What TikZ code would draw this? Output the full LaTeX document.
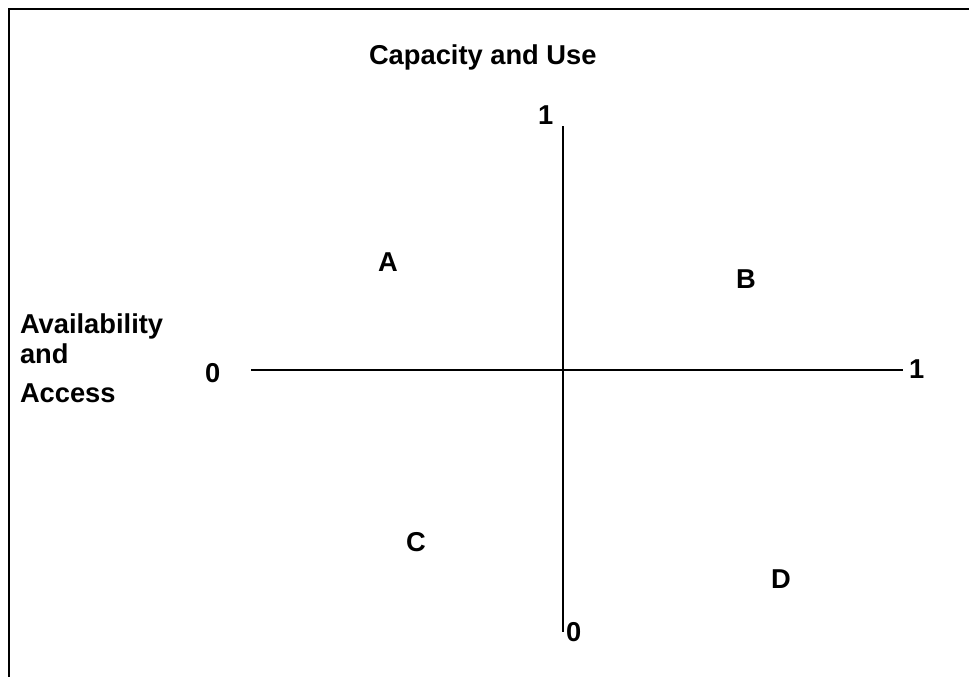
\documentclass[tikz,border=0pt]{standalone}
\usepackage{fontspec}
\setmainfont{Liberation Sans}
\begin{document}
\begin{tikzpicture}[x=1pt,y=-1pt,
  lbl/.style={anchor=base west,inner sep=0pt,outer sep=0pt,font=\bfseries\fontsize{27.3}{32}\selectfont},
  axis/.style={draw=black,line width=1.2pt},
  frame/.style={draw=black,line width=2pt}]
\useasboundingbox[fill=white] (0,0) rectangle (969,677);
% frame (open at right and bottom)
\coordinate (fb) at (9,677);
\coordinate (fc) at (9,9);
\coordinate (fr) at (969,9);
\draw[frame] (fb) -- (fc) -- (fr);
% axes
\coordinate (vt) at (563,126);
\coordinate (vb) at (563,632);
\coordinate (hl) at (251,370);
\coordinate (hr) at (903,370);
\draw[axis] (vt) -- (vb);
\draw[axis] (hl) -- (hr);
% labels
\node[lbl] (title) at (369,64) {Capacity and Use};
\node[lbl] (ytop) at (538,124) {1};
\node[lbl] (ybot) at (566,641) {0};
\node[lbl] (xl) at (205,382) {0};
\node[lbl] (xr) at (909,378) {1};
\node[lbl] (av1) at (20,333) {Availability};
\node[lbl] (av2) at (20,363) {and};
\node[lbl] (av3) at (20,402) {Access};
\node[lbl] (qa) at (378,271) {A};
\node[lbl] (qb) at (736,288) {B};
\node[lbl] (qc) at (406,551) {C};
\node[lbl] (qd) at (771,588) {D};
\end{tikzpicture}
\end{document}
